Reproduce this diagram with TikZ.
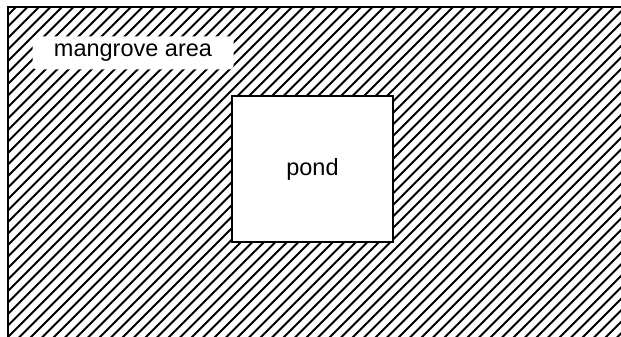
\documentclass[tikz,border=0pt]{standalone}
\usepackage{fontspec}
\setmainfont{Liberation Sans}
\usepackage{tikz}
\usetikzlibrary{positioning}

\tikzset{
  hatch/.style={line width=1.9pt},
  areabox/.style={fill=white, rounded corners=4pt, minimum width=201pt, minimum height=33pt, inner sep=0pt},
  pondbox/.style={draw, fill=white, line width=1.8pt, minimum width=161pt, minimum height=146pt, inner sep=0pt}
}

\begin{document}
\begin{tikzpicture}[x=1pt, y=-1pt, font=\fontsize{23.5}{27}\selectfont]
        \useasboundingbox (0,0) rectangle (621,337);
        % hatched mangrove field
        \begin{scope}
          \clip (8,7) rectangle (621,337);
          \foreach \c in {0,11.5,...,980} {
            \draw[hatch] (\c,0) -- (\c-340,340);
          }
        \end{scope}
        \draw[line width=1.6pt] (8,337) -- (8,7) -- (621,7);
        % labels
        \node[areabox] (mangrove) at (133,53) {mangrove area};
        \node[pondbox] (pond) at (312.5,169) {pond};
      \end{tikzpicture}
\end{document}
